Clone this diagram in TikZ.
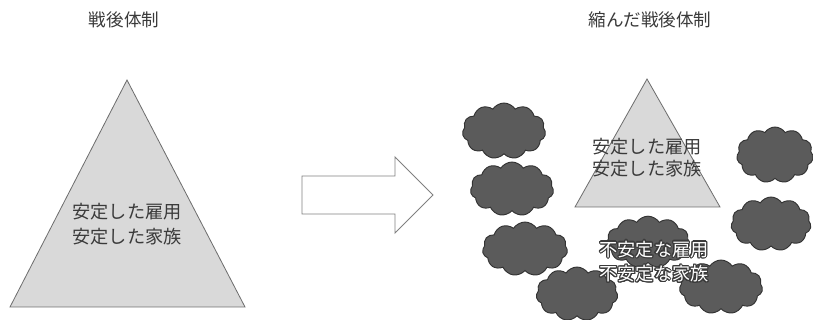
\documentclass[tikz,border=0pt]{standalone}
\usepackage{fontspec}
\setmainfont{Noto Sans CJK JP}
\usepackage{contour}
\contourlength{0.9pt}
\usepackage{tikz}
\usetikzlibrary{positioning,shapes.symbols}
\definecolor{PyramidFill}{HTML}{D9D9D9}
\definecolor{PyramidLine}{HTML}{6E6E6E}
\definecolor{CloudFill}{HTML}{5B5B5B}
\definecolor{CloudLine}{HTML}{333333}
\definecolor{ArrowLine}{HTML}{808080}
\definecolor{InkGray}{HTML}{3A3A3A}

\begin{document}
\begin{tikzpicture}[x=0.03cm, y=-0.03cm,
    title/.style={text=InkGray, font=\fontsize{15}{18}\selectfont, inner sep=0pt},
    label/.style={text=InkGray, font=\fontsize{15.5}{21}\selectfont, align=center, inner sep=0pt},
    pyramid/.style={fill=PyramidFill, draw=PyramidLine, line width=0.7pt},
    puff/.style={cloud, cloud puffs=11, cloud puff arc=115, draw=CloudLine, fill=CloudFill, line width=0.8pt, inner sep=0pt}]
    \useasboundingbox (0,0) rectangle (813,320);
    \node[title] (before) at (124,20) {戦後体制};
    \node[title] (after) at (650,20) {縮んだ戦後体制};

    \draw[pyramid] (127,80) coordinate (p1top) -- (245,307) -- (10,307) -- cycle;
    \node[label] (stable) at (127,224) {安定した雇用\\安定した家族};

    \draw[draw=ArrowLine, fill=white, line width=0.8pt]
      (302,176) -- (395,176) -- (395,157) -- (433,195) coordinate (tip)
      -- (395,233) -- (395,214) -- (302,214) -- cycle;

    \node[puff, minimum width=2.5cm, minimum height=1.68cm] (c1) at (504,131) {};
    \node[puff, minimum width=2.5cm, minimum height=1.62cm] (c2) at (512,189) {};
    \node[puff, minimum width=2.55cm, minimum height=1.62cm] (c3) at (525,249) {};
    \node[puff, minimum width=2.45cm, minimum height=1.62cm] (c4) at (577,294) {};
    \node[puff, minimum width=2.5cm, minimum height=1.55cm] (c5) at (648,242) {};
    \node[puff, minimum width=2.5cm, minimum height=1.62cm] (c6) at (721,287) {};
    \node[puff, minimum width=2.3cm, minimum height=1.68cm] (c7) at (775,155) {};
    \node[puff, minimum width=2.4cm, minimum height=1.62cm] (c8) at (771,224) {};

    \draw[pyramid] (647,79) coordinate (p2top) -- (720,207) -- (575,207) -- cycle;
    \node[label, font=\fontsize{15.5}{19}\selectfont] (shrunk) at (647,158) {安定した雇用\\安定した家族};

    \node[label] (unstable) at (654,262) {\contour{InkGray}{\textcolor{white}{不安定な雇用}}\\\contour{InkGray}{\textcolor{white}{不安定な家族}}};
\end{tikzpicture}
\end{document}
